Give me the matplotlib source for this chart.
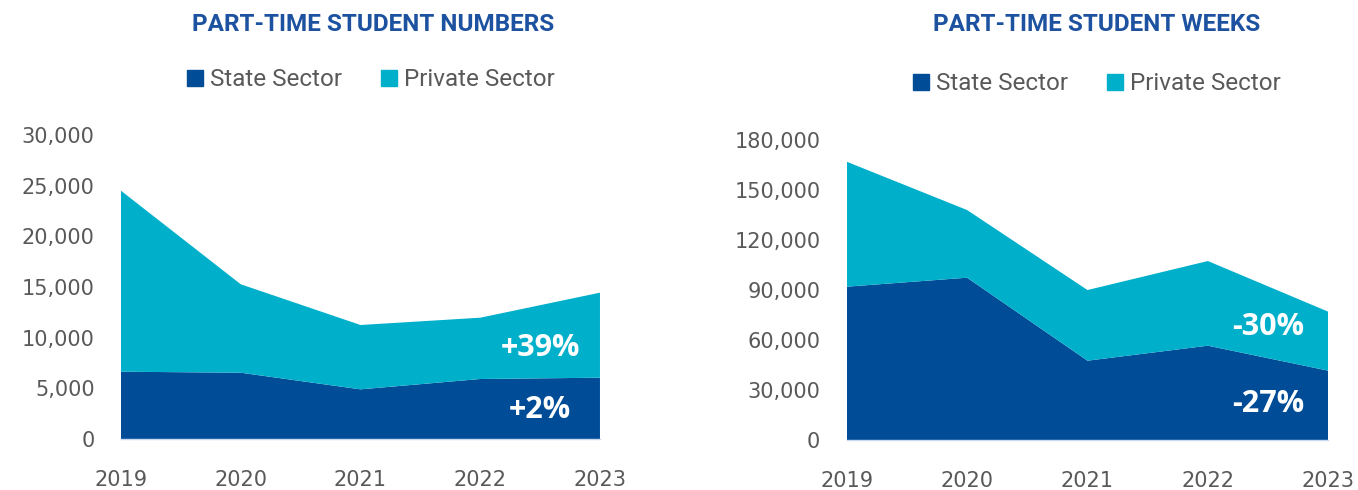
import matplotlib.pyplot as plt
from matplotlib.patches import Patch

years = [2019, 2020, 2021, 2022, 2023]

# part-time student numbers
numbers_state = [6640, 6540, 4900, 5920, 6050]
numbers_private = [17860, 8730, 6350, 6050, 8390]

# part-time student weeks
weeks_state = [92000, 97400, 47600, 56600, 41600]
weeks_private = [75000, 40600, 42400, 50800, 35400]

numbers_change = ['+2%', '+39%']
weeks_change = ['-27%', '-30%']

STATE = '#004C97'
PRIVATE = '#00B0CB'
TITLE = '#1D52A0'
GREY = '#595959'


def draw_panel(ax, state, private, ymax, step, labels, label_pos):
    ax.stackplot(years, state, private, colors=[STATE, PRIVATE], linewidth=0)
    ax.set_xlim(years[0], years[-1])
    ax.set_ylim(0, ymax)
    ax.set_xticks(years)
    ax.set_yticks(range(0, ymax + 1, step))
    ax.set_yticklabels([f'{v:,}' for v in range(0, ymax + 1, step)])
    ax.tick_params(length=0, labelsize=15, labelcolor=GREY)
    ax.tick_params(axis='y', pad=19)
    ax.tick_params(axis='x', pad=22)
    for side in ['top', 'right', 'left']:
        ax.spines[side].set_visible(False)
    ax.spines['bottom'].set_color('#C9DAF0')
    ax.spines['bottom'].set_linewidth(1)

    # percentage change labels inside each band at the right-hand end
    s_y = state[-1] * label_pos[0]
    p_y = state[-1] + private[-1] * label_pos[1]
    for y, txt in [(s_y, labels[0]), (p_y, labels[1])]:
        ax.text(2022.5, y, txt, color='white', fontsize=22, fontweight='bold',
                ha='center', va='center', family='Open Sans')


fig = plt.figure(figsize=(13.58, 4.9), dpi=100)
ax1 = fig.add_axes([0.0891, 0.1041, 0.3527, 0.6204])
ax2 = fig.add_axes([0.6235, 0.1020, 0.3546, 0.6122])

draw_panel(ax1, numbers_state, numbers_private, 30000, 5000,
           numbers_change, (0.47, 0.35))
draw_panel(ax2, weeks_state, weeks_private, 180000, 30000,
           weeks_change, (0.52, 0.74))

fig.text(373 / 1358, 0.949, 'PART-TIME STUDENT NUMBERS', color=TITLE, fontsize=17.5,
         fontweight='bold', family='Roboto', ha='center', va='center')
fig.text(1097 / 1358, 0.949, 'PART-TIME STUDENT WEEKS', color=TITLE, fontsize=17.5,
         fontweight='bold', family='Roboto', ha='center', va='center')

handles = [Patch(color=STATE, label='State Sector'),
           Patch(color=PRIVATE, label='Private Sector')]
for anchor in [(371 / 1358, 0.837), (1097 / 1358, 0.829)]:
    fig.legend(handles=handles, ncol=2, loc='center', bbox_to_anchor=anchor,
               frameon=False, handlelength=0.65, handleheight=0.65, handletextpad=0.3,
               columnspacing=1.6, prop={'family': 'Roboto', 'size': 17.5},
               labelcolor=GREY)

fig.savefig('out.png', dpi=100)
